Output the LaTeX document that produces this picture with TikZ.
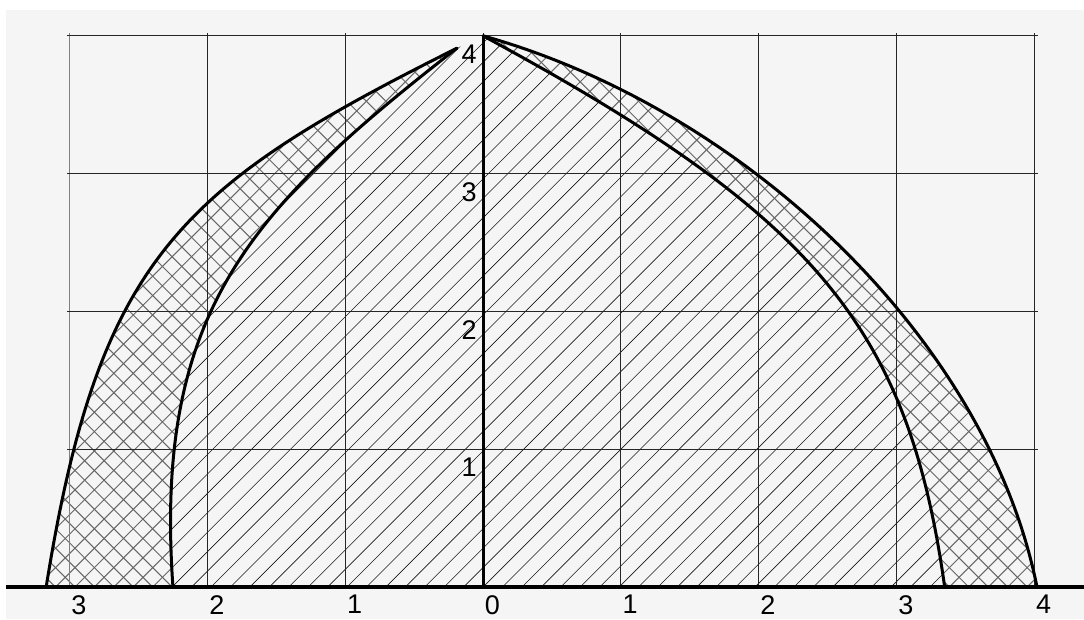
\documentclass[tikz,border=0pt]{standalone}
\usepackage{fontspec}
\setmainfont{Liberation Sans}
\definecolor{bgc}{RGB}{245,245,245}
\begin{document}
\begin{tikzpicture}[x=137.8pt,y=137.8pt,
  curve/.style={line width=3pt, line join=round, line cap=round},
  gridline/.style={black!85, line width=0.9pt},
  hatchA/.style={black!90, line width=0.6pt},
  hatchB/.style={black!60, line width=1pt},
  lab/.style={inner sep=0pt, font=\fontsize{27}{32}\selectfont}]
\useasboundingbox (-3.505,-0.232) rectangle (4.361,4.260);
\fill[white] (-3.505,-0.232) rectangle (4.361,4.260);
\fill[bgc] (-3.462,-0.232) rectangle (4.361,4.187);

% inner region: single hatch
\begin{scope}
\clip (-2.25,0) .. controls (-2.39,2.0) and (-1.69,2.74) .. (-0.19,3.91)
  -- (0,4) .. controls (2.4,2.704) and (3.084,1.9) .. (3.35,0) -- cycle;
\foreach \i in {-55,...,32} \draw[hatchA] ({\i*0.141-0.3},-0.3) -- ++(5.5,5.5);
\end{scope}

% left band: cross hatch
\begin{scope}
\clip (-3.17,0) .. controls (-2.786,2.4) and (-2.19,2.91) .. (-0.19,3.91)
  .. controls (-1.69,2.74) and (-2.39,2.0) .. (-2.25,0) -- cycle;
\foreach \i in {-55,...,32} \draw[hatchB] ({\i*0.141-0.3},-0.3) -- ++(5.5,5.5);
\foreach \i in {-25,...,60} \draw[hatchB] ({\i*0.141+0.3},-0.3) -- ++(-5.5,5.5);
\end{scope}

% right band: cross hatch
\begin{scope}
\clip (0,4) .. controls (1.9,3.468) and (3.66,1.8) .. (4.02,0)
  -- (3.35,0) .. controls (3.084,1.9) and (2.4,2.704) .. (0,4) -- cycle;
\foreach \i in {-55,...,32} \draw[hatchB] ({\i*0.141-0.3},-0.3) -- ++(5.5,5.5);
\foreach \i in {-25,...,60} \draw[hatchB] ({\i*0.141+0.3},-0.3) -- ++(-5.5,5.5);
\end{scope}

% grid
\draw[black!50, line width=1.5pt] (-3,0) -- (-3,4.02);
\foreach \x in {-2,...,4} \draw[gridline] (\x,0) -- (\x,4.02);
\foreach \y in {1,...,4} \draw[gridline] (-3.02,\y) -- (4.03,\y);

% curves
\coordinate (lo0) at (-3.17,0);
\coordinate (li0) at (-2.25,0);
\coordinate (tip) at (-0.19,3.91);
\coordinate (apex) at (0,4);
\coordinate (ro0) at (4.02,0);
\coordinate (ri0) at (3.35,0);
\draw[curve] (lo0) .. controls (-2.786,2.4) and (-2.19,2.91) .. (tip);
\draw[curve] (li0) .. controls (-2.39,2.0) and (-1.69,2.74) .. (tip);
\draw[curve] (apex) .. controls (1.9,3.468) and (3.66,1.8) .. (ro0);
\draw[curve] (apex) .. controls (2.4,2.704) and (3.084,1.9) .. (ri0);

% axes
\coordinate (axbot) at (0,0);
\coordinate (blL) at (-3.462,0);
\coordinate (blR) at (4.361,0);
\draw[line width=3pt] (axbot) -- (apex);
\draw[line width=4.5pt] (blL) -- (blR);

% labels
\foreach \x/\t [count=\n] in {-3/3,-2/2,-1/1,0/0,1/1,2/2,3/3,4/4}
  \node[lab, anchor=north west] (xl\n) at (\x+0.012,-0.058) {\t};
\foreach \y in {1,...,4}
  \node[lab, anchor=north east] (yl\y) at (-0.045,\y-0.065) {\y};
\end{tikzpicture}
\end{document}
